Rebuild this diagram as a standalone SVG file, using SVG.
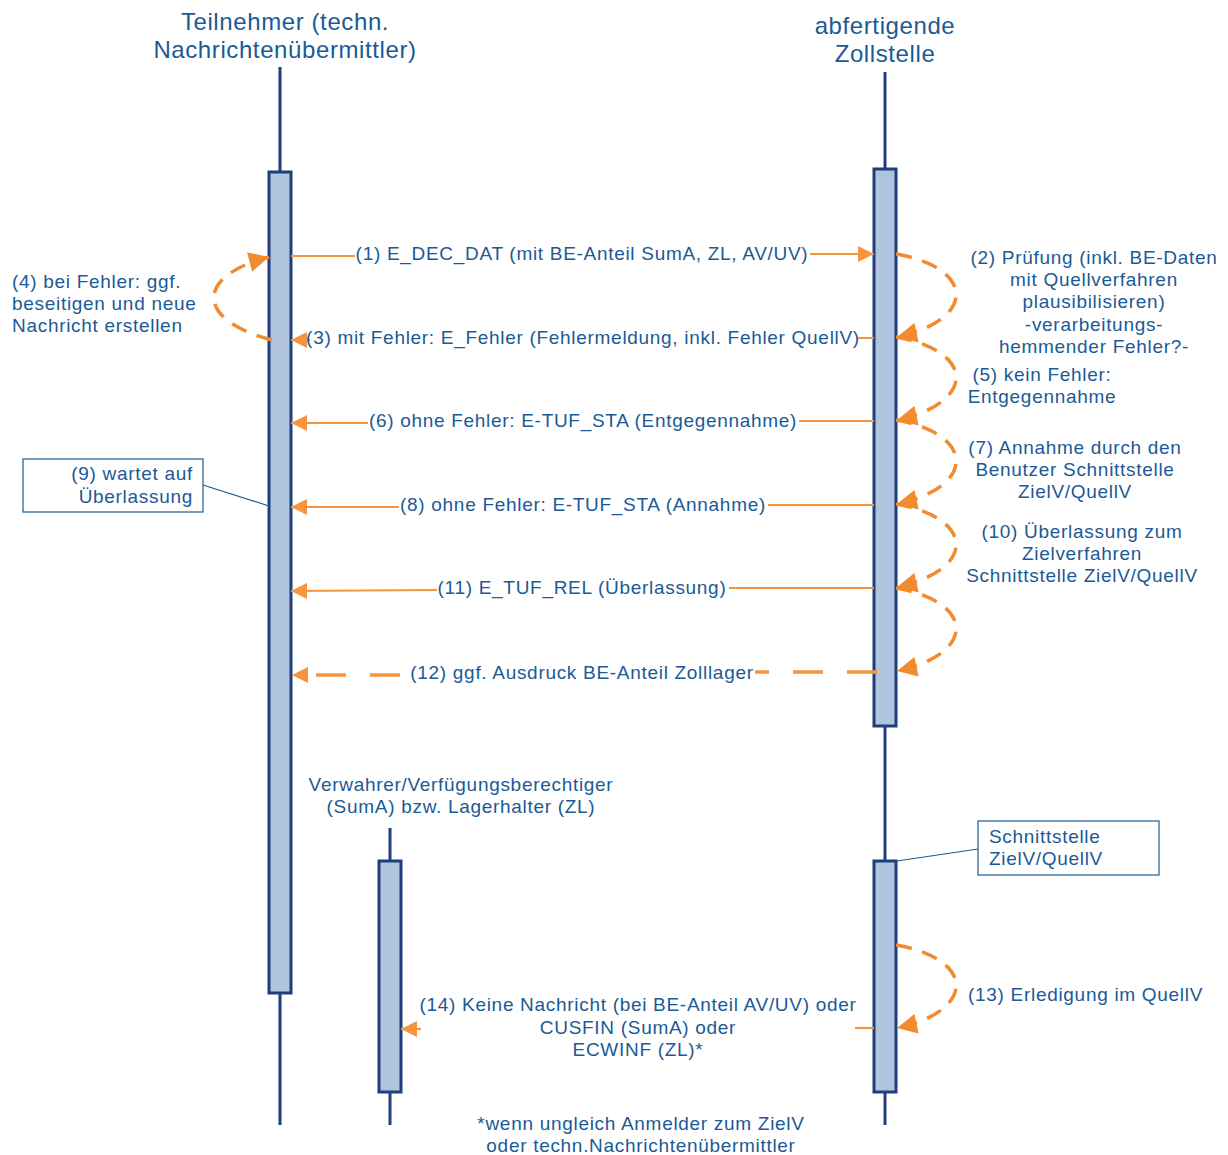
<svg xmlns="http://www.w3.org/2000/svg" width="1228" height="1155" viewBox="0 0 1228 1155">
<style>
text{font-family:"Liberation Sans",Arial,sans-serif;font-size:19px;letter-spacing:0.7px;fill:#1B5A96}
.title{font-size:24px;letter-spacing:0.6px}
.mid{text-anchor:middle}
.end{text-anchor:end}
.life{stroke:#1F3F7A;stroke-width:3;fill:none}
.act{fill:#B0C4DE;stroke:#1F3F7A;stroke-width:3}
.msg{stroke:#F7943C;stroke-width:2.2;fill:none}
.dmsg{stroke:#F7943C;stroke-width:3.5;fill:none;stroke-dasharray:30 24}
.loop{stroke:#F28A2E;stroke-width:3.5;fill:none;stroke-dasharray:16 11}
.note{fill:#fff;stroke:#1B5A96;stroke-width:1.2}
.lead{stroke:#1B5A96;stroke-width:1.2}
</style>
<defs>
<marker id="ah" viewBox="0 0 10 10" refX="10" refY="5" markerWidth="20" markerHeight="16" markerUnits="userSpaceOnUse" orient="auto"><path d="M0,0 L10,5 L0,10 z" fill="#F7943C"/></marker>
<marker id="ahl" viewBox="0 0 10 10" refX="10" refY="5" markerWidth="24" markerHeight="20" markerUnits="userSpaceOnUse" orient="auto"><path d="M0,0 L10,5 L0,10 z" fill="#F28A2E"/></marker>
</defs>

<g id="teilnehmer">
<text class="title mid" x="285" y="30">Teilnehmer (techn.</text>
<text class="title mid" x="285" y="58">Nachrichtenübermittler)</text>
<line class="life" x1="280" y1="67" x2="280" y2="1125"/>
<rect class="act" x="269" y="172" width="22" height="821"/>
</g>

<g id="zollstelle">
<text class="title mid" x="885" y="34">abfertigende</text>
<text class="title mid" x="885" y="62">Zollstelle</text>
<line class="life" x1="885" y1="72" x2="885" y2="1125"/>
<rect class="act" x="874" y="169" width="22" height="557"/>
<rect class="act" x="874" y="861" width="22" height="231"/>
</g>

<g id="verwahrer">
<text class="mid" x="461" y="791">Verwahrer/Verfügungsberechtiger</text>
<text class="mid" x="461" y="813">(SumA) bzw. Lagerhalter (ZL)</text>
<line class="life" x1="390" y1="828" x2="390" y2="1125"/>
<rect class="act" x="379" y="861" width="22" height="231"/>
</g>

<g id="note9">
<rect class="note" x="23" y="459" width="180" height="53"/>
<text class="end" x="193" y="480">(9) wartet auf</text>
<text class="end" x="193" y="503">Überlassung</text>
<line class="lead" x1="203" y1="485" x2="269" y2="506"/>
</g>

<g id="noteSchnitt">
<rect class="note" x="978" y="821" width="181" height="54"/>
<text x="989" y="843">Schnittstelle</text>
<text x="989" y="865">ZielV/QuellV</text>
<line class="lead" x1="978" y1="849" x2="897" y2="861"/>
</g>

<g id="connectors">
<path class="msg" d="M291,256 L355,256 M810,254 L874,254" marker-end="url(#ah)"/>
<path class="msg" d="M874,338 L858,338 M310,340 L291,340" marker-end="url(#ah)"/>
<path class="msg" d="M874,421 L799,421 M368,423 L291,423" marker-end="url(#ah)"/>
<path class="msg" d="M874,505 L768,505 M399,507 L291,507" marker-end="url(#ah)"/>
<path class="msg" d="M874,588 L729,588 M437,590 L291,591" marker-end="url(#ah)"/>
<path class="dmsg" d="M877,672 L755,672"/>
<path class="dmsg" d="M400,675 L292,675" marker-end="url(#ah)"/>
<line class="msg" x1="874" y1="1028" x2="855" y2="1028"/>
<line class="msg" x1="421" y1="1029" x2="401" y2="1029" marker-end="url(#ah)"/>

<path class="loop" d="M272,340 C195,320 195,276 269,257" marker-end="url(#ahl)"/>
<path class="loop" d="M896,254 C976,268 976,320 897,337" marker-end="url(#ahl)"/>
<path class="loop" d="M896,337 C976,351 976,403 897,420" marker-end="url(#ahl)"/>
<path class="loop" d="M896,420 C976,434 976,487 897,504" marker-end="url(#ahl)"/>
<path class="loop" d="M896,504 C976,518 976,570 897,587" marker-end="url(#ahl)"/>
<path class="loop" d="M896,588 C976,602 976,654 897,671" marker-end="url(#ahl)"/>
<path class="loop" d="M896,945 C976,959 976,1011 897,1028" marker-end="url(#ahl)"/>
</g>

<g id="labels">
<text class="mid" x="582" y="260">(1) E_DEC_DAT (mit BE-Anteil SumA, ZL, AV/UV)</text>
<text class="mid" x="583" y="344">(3) mit Fehler: E_Fehler (Fehlermeldung, inkl. Fehler QuellV)</text>
<text class="mid" x="583" y="427">(6) ohne Fehler: E-TUF_STA (Entgegennahme)</text>
<text class="mid" x="583" y="511">(8) ohne Fehler: E-TUF_STA (Annahme)</text>
<text class="mid" x="582" y="594">(11) E_TUF_REL (Überlassung)</text>
<text class="mid" x="582" y="679">(12) ggf. Ausdruck BE-Anteil Zolllager</text>
<text class="mid" x="638" y="1011">(14) Keine Nachricht (bei BE-Anteil AV/UV) oder</text>
<text class="mid" x="638" y="1034">CUSFIN (SumA) oder</text>
<text class="mid" x="638" y="1056">ECWINF (ZL)*</text>

<text x="12" y="288">(4) bei Fehler: ggf.</text>
<text x="12" y="310">beseitigen und neue</text>
<text x="12" y="332">Nachricht erstellen</text>

<text class="mid" x="1094" y="264">(2) Prüfung (inkl. BE-Daten</text>
<text class="mid" x="1094" y="286">mit Quellverfahren</text>
<text class="mid" x="1094" y="308">plausibilisieren)</text>
<text class="mid" x="1094" y="331">-verarbeitungs-</text>
<text class="mid" x="1094" y="353">hemmender Fehler?-</text>

<text class="mid" x="1042" y="381">(5) kein Fehler:</text>
<text class="mid" x="1042" y="403">Entgegennahme</text>

<text class="mid" x="1075" y="454">(7) Annahme durch den</text>
<text class="mid" x="1075" y="476">Benutzer Schnittstelle</text>
<text class="mid" x="1075" y="498">ZielV/QuellV</text>

<text class="mid" x="1082" y="538">(10) Überlassung zum</text>
<text class="mid" x="1082" y="560">Zielverfahren</text>
<text class="mid" x="1082" y="582">Schnittstelle ZielV/QuellV</text>

<text x="968" y="1001">(13) Erledigung im QuellV</text>

<text class="mid" x="641" y="1130">*wenn ungleich Anmelder zum ZielV</text>
<text class="mid" x="641" y="1152">oder techn.Nachrichtenübermittler</text>
</g>
</svg>
